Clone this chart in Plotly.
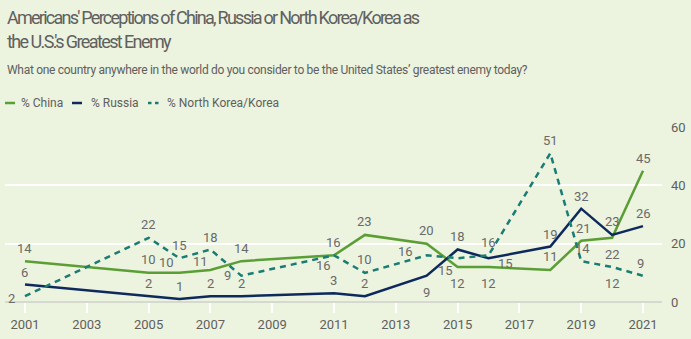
import plotly.graph_objects as go

years = [2001, 2005, 2006, 2007, 2008, 2011, 2012, 2014, 2015, 2016, 2018, 2019, 2020, 2021]
china = [14, 10, 10, 11, 14, 16, 23, 20, 12, 12, 11, 21, 22, 45]
russia = [6, 2, 1, 2, 2, 3, 2, 9, 18, 15, 19, 32, 23, 26]
nkorea = [2, 22, 15, 18, 9, 16, 10, 16, 15, 16, 51, 14, 12, 9]
tick_years = list(range(2001, 2022, 2))
y_ticks = [0, 20, 40, 60]

# label offsets (pixels: dx, dy upward)
china_off = [(0, 13), (0, 13), (-13, 10), (-10, 8), (0, 13), (0, 13), (0, 13), (0, 13),
             (0, -16), (0, -16), (0, 13), (2, 12), (0, -17), (0, 12)]
russia_off = [(0, 12), (0, 13), (0, 13), (0, 13), (0, 13), (0, 13), (0, 13), (0, -17),
              (0, 13), (17, -5), (0, 12), (0, 12), (0, 13), (0, 13)]
nk_off = [(-13, -2), (0, 13), (0, 13), (0, 12), (-14, 0), (-10, -10), (0, 13), (-21, 4),
          (-12, -12), (0, 13), (0, 13), (1, 13), (0, -16), (-3, 12)]

BG = "#ECF3DE"
C_CHINA = "#5A9E35"
C_RUSSIA = "#0E2A5C"
C_NK = "#1B7C75"
TXT = "#606060"
FONT = "Roboto, sans-serif"

fig = go.Figure()
series = [
    ("% China", china, C_CHINA, "solid", china_off),
    ("% Russia", russia, C_RUSSIA, "solid", russia_off),
    ("% North Korea/Korea", nkorea, C_NK, "6px,5px", nk_off),
]
for name, vals, col, dash, offs in series:
    fig.add_trace(go.Scatter(x=years, y=vals, mode="lines", name=name,
                             line=dict(color=col, width=2.5, dash=dash),
                             showlegend=False, cliponaxis=False))

annotations = []
for name, vals, col, dash, offs in series:
    for yr, v, (dx, dy) in zip(years, vals, offs):
        annotations.append(dict(x=yr, y=v, xref="x", yref="y", text=str(v), showarrow=False,
                                xshift=dx, yshift=dy,
                                font=dict(family=FONT, size=13, color="#6a6a6a")))

# pixel helpers for layout text
L, R, T, B = 5, 29, 127, 37
PW, PH = 691 - L - R, 339 - T - B
def px(x):
    return (x - L) / PW
def py(y):
    return (339 - B - y) / PH

def tight(s, ls):
    return '<span style="letter-spacing:%spx">%s</span>' % (ls, s)

annotations.append(dict(x=px(5), y=py(17), xref="paper", yref="paper", xanchor="left", yanchor="middle",
                        text=tight("Americans' Perceptions of China, Russia or North Korea/Korea as", -1.75),
                        showarrow=False, font=dict(family=FONT, size=18, color=TXT)))
annotations.append(dict(x=px(5), y=py(42), xref="paper", yref="paper", xanchor="left", yanchor="middle",
                        text=tight("the U.S.'s Greatest Enemy", -1.6),
                        showarrow=False, font=dict(family=FONT, size=18, color=TXT)))
annotations.append(dict(x=px(5), y=py(70), xref="paper", yref="paper", xanchor="left", yanchor="middle",
                        text=tight("What one country anywhere in the world do you consider to be the United States\u2019 greatest enemy today?", -0.3),
                        showarrow=False, font=dict(family=FONT, size=12, color=TXT)))

# legend (manual)
shapes = []
leg = [("% China", C_CHINA, "solid", 5, 19), ("% Russia", C_RUSSIA, "solid", 72, 89),
       ("% North Korea/Korea", C_NK, "dash", 148, 165)]
for name, col, dash, x0, tx in leg:
    if dash == "solid":
        shapes.append(dict(type="line", xref="paper", yref="paper", x0=px(x0), x1=px(x0 + 10),
                           y0=py(103), y1=py(103), line=dict(color=col, width=2.5)))
    else:
        for s in (x0, x0 + 7):
            shapes.append(dict(type="line", xref="paper", yref="paper", x0=px(s), x1=px(s + 3.5),
                               y0=py(103), y1=py(103), line=dict(color=col, width=2.5)))
    annotations.append(dict(x=px(tx), y=py(103), xref="paper", yref="paper", xanchor="left",
                            yanchor="middle", text=name, showarrow=False,
                            font=dict(family=FONT, size=12, color=TXT)))

fig.update_layout(
    width=691, height=339,
    margin=dict(l=L, r=R, t=T, b=B),
    paper_bgcolor=BG, plot_bgcolor=BG,
    annotations=annotations, shapes=shapes,
    xaxis=dict(range=[2000.353, 2021.615], tickvals=tick_years, ticktext=[str(t) for t in tick_years],
               ticks="outside", ticklen=10, tickwidth=2, tickcolor="white", showgrid=False,
               zeroline=False, showline=False,
               tickfont=dict(family=FONT, size=13, color=TXT)),
    yaxis=dict(range=[0, 60], tickvals=y_ticks, side="right", showgrid=True, gridcolor="white",
               gridwidth=2, zeroline=True, zerolinecolor="#D6D9D0", zerolinewidth=2,
               ticks="", ticklabelstandoff=8,
               tickfont=dict(family=FONT, size=13, color=TXT)),
)

fig.write_html("out.html")
